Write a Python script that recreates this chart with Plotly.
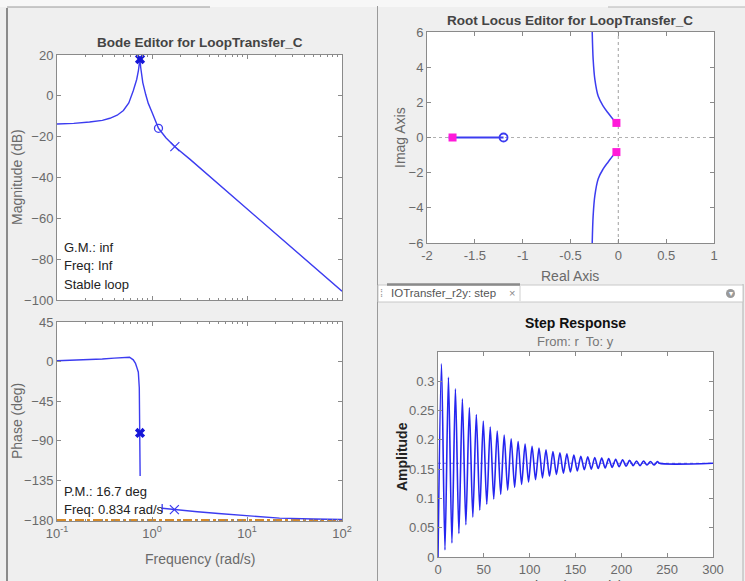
import plotly.graph_objects as go

# ---------------- data ----------------
# Bode magnitude (rad/s, dB)
mag_freq = [0.1, 0.15, 0.22, 0.3, 0.36, 0.43, 0.5, 0.57, 0.635, 0.69, 0.72, 0.74, 0.748,
            0.76, 0.8, 0.86, 0.914, 1.0, 1.08, 1.17, 1.4, 1.74, 2.5, 4.0, 10.0, 30.0, 100.0]
mag_db = [-13.8, -13.5, -12.8, -12.0, -11.0, -9.5, -7.2, -3.5, 2.5, 8.0, 12.5, 17.0, 18.5,
          14.0, 6.5, 0.5, -3.7, -8.0, -12.0, -15.9, -20.5, -24.9, -31.0, -39.3, -55.5, -74.6, -95.7]
mag_pole_peak = (0.748, 18.0)
mag_zero = (1.17, -15.9)
mag_pole2 = (1.74, -24.9)

# Bode phase (rad/s, deg) - two visible pieces
ph1_freq = [0.1, 0.2, 0.3, 0.4, 0.5, 0.58, 0.635, 0.67, 0.69, 0.718, 0.735, 0.742, 0.746, 0.748, 0.75]
ph1_deg = [1.0, 2.0, 3.0, 4.0, 5.0, 5.0, 2.0, -2.0, -6.0, -12.0, -30.0, -55.0, -80.0, -105.0, -130.0]
ph2_freq = [1.28, 1.72, 3.0, 5.0, 11.7, 22.0, 50.0, 100.0]
ph2_deg = [-166.5, -168.0, -170.5, -172.5, -175.5, -177.7, -178.8, -179.3]
ph_pole_peak = (0.748, -81.0)
ph_pole2 = (1.72, -168.0)
ph_ref = -180

# Root locus
rl_real_seg = [-1.775, -1.2]
rl_up_re = [-0.02, -0.05, -0.106, -0.16, -0.21, -0.245, -0.263, -0.273]
rl_up_im = [0.83, 1.0, 1.39, 1.8, 2.34, 3.29, 4.43, 6.0]
rl_lo_re = [-0.02, -0.05, -0.106, -0.16, -0.21, -0.245, -0.263, -0.273]
rl_lo_im = [-0.83, -1.0, -1.39, -1.8, -2.34, -3.29, -4.43, -6.0]
rl_cl_re = [-1.733, -0.02, -0.02]
rl_cl_im = [0.0, 0.83, -0.83]
rl_zero = (-1.2, 0.0)

# Step response extremes (seconds, amplitude)
step_t = [0, 3.8, 7.6, 11.4, 15.2, 19.0, 22.8, 26.6, 30.4, 34.2, 38.0, 41.8, 45.6, 49.4, 53.2,
          57.0, 60.8, 64.6, 68.4, 72.2, 76.0, 79.8, 83.6, 87.4, 91.2, 95.0, 98.8, 102.6, 106.4,
          110.2, 114.0, 117.8, 121.6, 125.4, 129.2, 133.0, 136.8, 140.6, 144.4, 148.2, 152.0,
          155.8, 159.6, 163.4, 167.2, 171.0, 174.8, 178.6, 182.4, 186.2, 190.0, 193.8, 197.6,
          201.4, 205.2, 209.0, 212.8, 216.6, 220.4, 224.2, 228.0, 231.8, 235.6, 239.4, 241.5, 300]
step_y = [0.0, 0.330, 0.012, 0.307, 0.024, 0.287, 0.040, 0.270, 0.055, 0.255, 0.068, 0.243, 0.080,
          0.232, 0.090, 0.222, 0.099, 0.215, 0.107, 0.208, 0.114, 0.202, 0.119, 0.197, 0.124,
          0.193, 0.128, 0.189, 0.132, 0.186, 0.135, 0.183, 0.138, 0.180, 0.141, 0.178, 0.143,
          0.176, 0.145, 0.174, 0.147, 0.172, 0.149, 0.171, 0.150, 0.170, 0.151, 0.169, 0.152,
          0.168, 0.153, 0.167, 0.154, 0.166, 0.155, 0.165, 0.156, 0.164, 0.156, 0.164, 0.157,
          0.163, 0.157, 0.163, 0.160, 0.160]
step_final = 0.16

# ---------------- styling helpers ----------------
W, H = 745, 581
def px(x):
    return x / W
def py(y):
    return 1 - y / H

BLUE = "#3c3cf0"
DBLUE = "#1616d8"
MAG = "#ff1ad9"
GRAY = "#8a8a8a"
TXT = "#6a6a6a"
FONT = "Liberation Sans, Arial, sans-serif"

fig = go.Figure()

# Bode magnitude
fig.add_trace(go.Scatter(x=mag_freq, y=mag_db, xaxis="x", yaxis="y", mode="lines",
                         line=dict(color=BLUE, width=1.4), hoverinfo="skip"))
fig.add_trace(go.Scatter(x=[mag_pole_peak[0]], y=[mag_pole_peak[1]], xaxis="x", yaxis="y", mode="markers",
                         marker=dict(symbol="x", size=9, color=DBLUE, line=dict(width=0))))
fig.add_trace(go.Scatter(x=[mag_zero[0]], y=[mag_zero[1]], xaxis="x", yaxis="y", mode="markers",
                         marker=dict(symbol="circle-open", size=8, color=BLUE, line=dict(width=1.3))))
fig.add_trace(go.Scatter(x=[mag_pole2[0]], y=[mag_pole2[1]], xaxis="x", yaxis="y", mode="markers",
                         marker=dict(symbol="x-thin-open", size=9, color=BLUE, line=dict(width=1.2, color=BLUE))))

# Bode phase
fig.add_trace(go.Scatter(x=[0.1, 100], y=[ph_ref, ph_ref], xaxis="x2", yaxis="y2", mode="lines",
                         line=dict(color="#d48a2a", width=2.2, dash="dashdot"), hoverinfo="skip"))
fig.add_trace(go.Scatter(x=ph1_freq, y=ph1_deg, xaxis="x2", yaxis="y2", mode="lines",
                         line=dict(color=BLUE, width=1.4), hoverinfo="skip"))
fig.add_trace(go.Scatter(x=ph2_freq, y=ph2_deg, xaxis="x2", yaxis="y2", mode="lines",
                         line=dict(color=BLUE, width=1.4), hoverinfo="skip"))
fig.add_trace(go.Scatter(x=[ph2_freq[0]], y=[ph2_deg[0]], xaxis="x2", yaxis="y2", mode="markers",
                         marker=dict(symbol="line-ns-open", size=6, color=BLUE, line=dict(width=1.3, color=BLUE))))
fig.add_trace(go.Scatter(x=[ph_pole_peak[0]], y=[ph_pole_peak[1]], xaxis="x2", yaxis="y2", mode="markers",
                         marker=dict(symbol="x", size=9, color=DBLUE, line=dict(width=0))))
fig.add_trace(go.Scatter(x=[ph_pole2[0]], y=[ph_pole2[1]], xaxis="x2", yaxis="y2", mode="markers",
                         marker=dict(symbol="x-thin-open", size=9, color=BLUE, line=dict(width=1.2, color=BLUE))))

# Root locus
fig.add_trace(go.Scatter(x=[-2, 1], y=[0, 0], xaxis="x3", yaxis="y3", mode="lines",
                         line=dict(color="#b0b0b0", width=1.2, dash="dot"), hoverinfo="skip"))
fig.add_trace(go.Scatter(x=[0, 0], y=[-6, 6], xaxis="x3", yaxis="y3", mode="lines",
                         line=dict(color="#b0b0b0", width=1.2, dash="dot"), hoverinfo="skip"))
fig.add_trace(go.Scatter(x=rl_real_seg, y=[0, 0], xaxis="x3", yaxis="y3", mode="lines",
                         line=dict(color=BLUE, width=2), hoverinfo="skip"))
fig.add_trace(go.Scatter(x=rl_up_re, y=rl_up_im, xaxis="x3", yaxis="y3", mode="lines",
                         line=dict(color=BLUE, width=1.5, shape="spline"), hoverinfo="skip"))
fig.add_trace(go.Scatter(x=rl_lo_re, y=rl_lo_im, xaxis="x3", yaxis="y3", mode="lines",
                         line=dict(color=BLUE, width=1.5, shape="spline"), hoverinfo="skip"))
fig.add_trace(go.Scatter(x=[rl_zero[0]], y=[rl_zero[1]], xaxis="x3", yaxis="y3", mode="markers",
                         marker=dict(symbol="circle-open", size=8, color=BLUE, line=dict(width=1.8))))
fig.add_trace(go.Scatter(x=rl_cl_re, y=rl_cl_im, xaxis="x3", yaxis="y3", mode="markers",
                         marker=dict(symbol="square", size=8, color=MAG)))

# Step response
fig.add_trace(go.Scatter(x=[0, 300], y=[step_final, step_final], xaxis="x4", yaxis="y4", mode="lines",
                         line=dict(color="#7d7dd0", width=1, dash="dot"), hoverinfo="skip"))
fig.add_trace(go.Scatter(x=step_t, y=step_y, xaxis="x4", yaxis="y4", mode="lines",
                         line=dict(color="#2525f0", width=1.6, shape="spline", smoothing=0.8), hoverinfo="skip"))

axis_base = dict(showline=True, linecolor=GRAY, linewidth=1, mirror="ticks", ticks="inside",
                 ticklen=4, tickcolor=GRAY, showgrid=False, zeroline=False, automargin=False,
                 tickfont=dict(family=FONT, size=13, color=TXT), fixedrange=True)

minor_log = dict(ticks="inside", ticklen=2, tickcolor=GRAY,
                 tickvals=[0.2, 0.3, 0.4, 0.5, 0.6, 0.7, 0.8, 0.9, 2, 3, 4, 5, 6, 7, 8, 9,
                           20, 30, 40, 50, 60, 70, 80, 90])

fig.update_layout(
    width=W, height=H, margin=dict(l=0, r=0, t=0, b=0, autoexpand=False),
    paper_bgcolor="#efefef", plot_bgcolor="white", showlegend=False,
    font=dict(family=FONT, color=TXT),
    xaxis=dict(axis_base, type="log", range=[-1, 2], domain=[px(57), px(342)], anchor="y",
               showticklabels=False, tickvals=[0.1, 1, 10, 100], minor=minor_log),
    yaxis=dict(axis_base, range=[-100, 20], domain=[py(300), py(55)], anchor="x",
               tickvals=[20, 0, -20, -40, -60, -80, -100]),
    xaxis2=dict(axis_base, type="log", range=[-1, 2], domain=[px(57), px(342)], anchor="y2",
                tickvals=[0.1, 1, 10, 100],
                ticktext=["10<sup>-1</sup>", "10<sup>0</sup>", "10<sup>1</sup>", "10<sup>2</sup>"],
                minor=minor_log),
    yaxis2=dict(axis_base, range=[-181, 45], domain=[py(521), py(322)], anchor="x2",
                tickvals=[45, 0, -45, -90, -135, -180]),
    xaxis3=dict(axis_base, range=[-2, 1], domain=[px(427), px(714)], anchor="y3",
                tickvals=[-2, -1.5, -1, -0.5, 0, 0.5, 1],
                ticktext=["-2", "-1.5", "-1", "-0.5", "0", "0.5", "1"]),
    yaxis3=dict(axis_base, range=[-6, 6], domain=[py(243), py(32)], anchor="x3",
                tickvals=[-6, -4, -2, 0, 2, 4, 6]),
    xaxis4=dict(axis_base, range=[0, 300], domain=[px(438), px(713)], anchor="y4",
                tickvals=[0, 50, 100, 150, 200, 250, 300]),
    yaxis4=dict(axis_base, range=[0, 0.35], domain=[py(557), py(352)], anchor="x4",
                tickvals=[0, 0.05, 0.1, 0.15, 0.2, 0.25, 0.3],
                ticktext=["0", "0.05", "0.1", "0.15", "0.2", "0.25", "0.3"]),
)

shapes = []
# frame / panel lines
shapes.append(dict(type="rect", xref="paper", yref="paper", x0=0, x1=1, y0=py(7), y1=1,
                   fillcolor="#f7f7f7", line=dict(width=0), layer="below"))
shapes.append(dict(type="line", xref="paper", yref="paper", x0=px(7), x1=px(210), y0=py(7), y1=py(7),
                   line=dict(color="#9a9a9a", width=1)))
shapes.append(dict(type="line", xref="paper", yref="paper", x0=px(608), x1=px(745), y0=py(7), y1=py(7),
                   line=dict(color="#b5b5b5", width=1)))
shapes.append(dict(type="line", xref="paper", yref="paper", x0=px(7), x1=px(7), y0=py(581), y1=py(8),
                   line=dict(color="#6a6a6a", width=1.5)))
shapes.append(dict(type="line", xref="paper", yref="paper", x0=px(377.5), x1=px(377.5), y0=0, y1=py(6),
                   line=dict(color="#9a9a9a", width=1)))
shapes.append(dict(type="line", xref="paper", yref="paper", x0=px(743), x1=px(743), y0=0, y1=py(284),
                   line=dict(color="#b0b0b0", width=1)))
# tab bar
shapes.append(dict(type="rect", xref="paper", yref="paper", x0=px(378), x1=px(743), y0=py(302), y1=py(285),
                   fillcolor="white", line=dict(color="#c8c8c8", width=1)))
shapes.append(dict(type="line", xref="paper", yref="paper", x0=px(387), x1=px(520), y0=py(284.5), y1=py(284.5),
                   line=dict(color="#8a8a8a", width=2.5)))
shapes.append(dict(type="line", xref="paper", yref="paper", x0=px(520), x1=px(520), y0=py(301), y1=py(286),
                   line=dict(color="#d0d0d0", width=1)))
shapes.append(dict(type="circle", xref="paper", yref="paper", x0=px(726), x1=px(735), y0=py(298), y1=py(289),
                   fillcolor="#9a9a9a", line=dict(width=0)))
fig.update_layout(shapes=shapes)

ann = []
def text(x, y, s, size=14, color=TXT, bold=False, angle=0, xanchor="center"):
    ann.append(dict(x=px(x), y=py(y), xref="paper", yref="paper", text=("<b>%s</b>" % s) if bold else s,
                    showarrow=False, xanchor=xanchor, yanchor="middle", textangle=angle,
                    font=dict(family=FONT, size=size, color=color)))

text(200, 43, "Bode Editor for LoopTransfer_C", size=13.5, color="#444444", bold=True)
text(570, 20, "Root Locus Editor for LoopTransfer_C", size=13.5, color="#444444", bold=True)
text(17, 177, "Magnitude (dB)", size=14, angle=-90)
text(17, 421, "Phase (deg)", size=14, angle=-90)
text(200, 559, "Frequency (rad/s)", size=14)
text(400, 138, "Imag Axis", size=14, angle=-90)
text(570, 276, "Real Axis", size=14)
text(62, 248, "G.M.: inf", size=13, color="#222222", xanchor="left")
text(62, 266, "Freq: Inf", size=13, color="#222222", xanchor="left")
text(62, 284, "Stable loop", size=13, color="#222222", xanchor="left")
text(62, 491, "P.M.: 16.7 deg", size=13, color="#222222", xanchor="left")
text(62, 509, "Freq: 0.834 rad/s", size=13, color="#222222", xanchor="left")
text(389, 293, "IOTransfer_r2y: step", size=11.5, color="#555555", xanchor="left")
text(512, 293, "×", size=11, color="#888888")
text(381, 293, "⁞", size=11, color="#999999")
text(730.5, 293.5, "▾", size=8, color="white")
text(575, 323, "Step Response", size=14, color="#111111", bold=True)
text(575, 341, "From: r  To: y", size=13, color="#777777")
text(402, 456, "Amplitude", size=14, color="#222222", bold=True, angle=-90)
text(575, 586, "Time (seconds)", size=14, color="#555555")
fig.update_layout(annotations=ann)

fig.write_html("out.html", config={"displayModeBar": False},
               post_script="document.body.style.margin='0';document.body.style.overflow='hidden';")
